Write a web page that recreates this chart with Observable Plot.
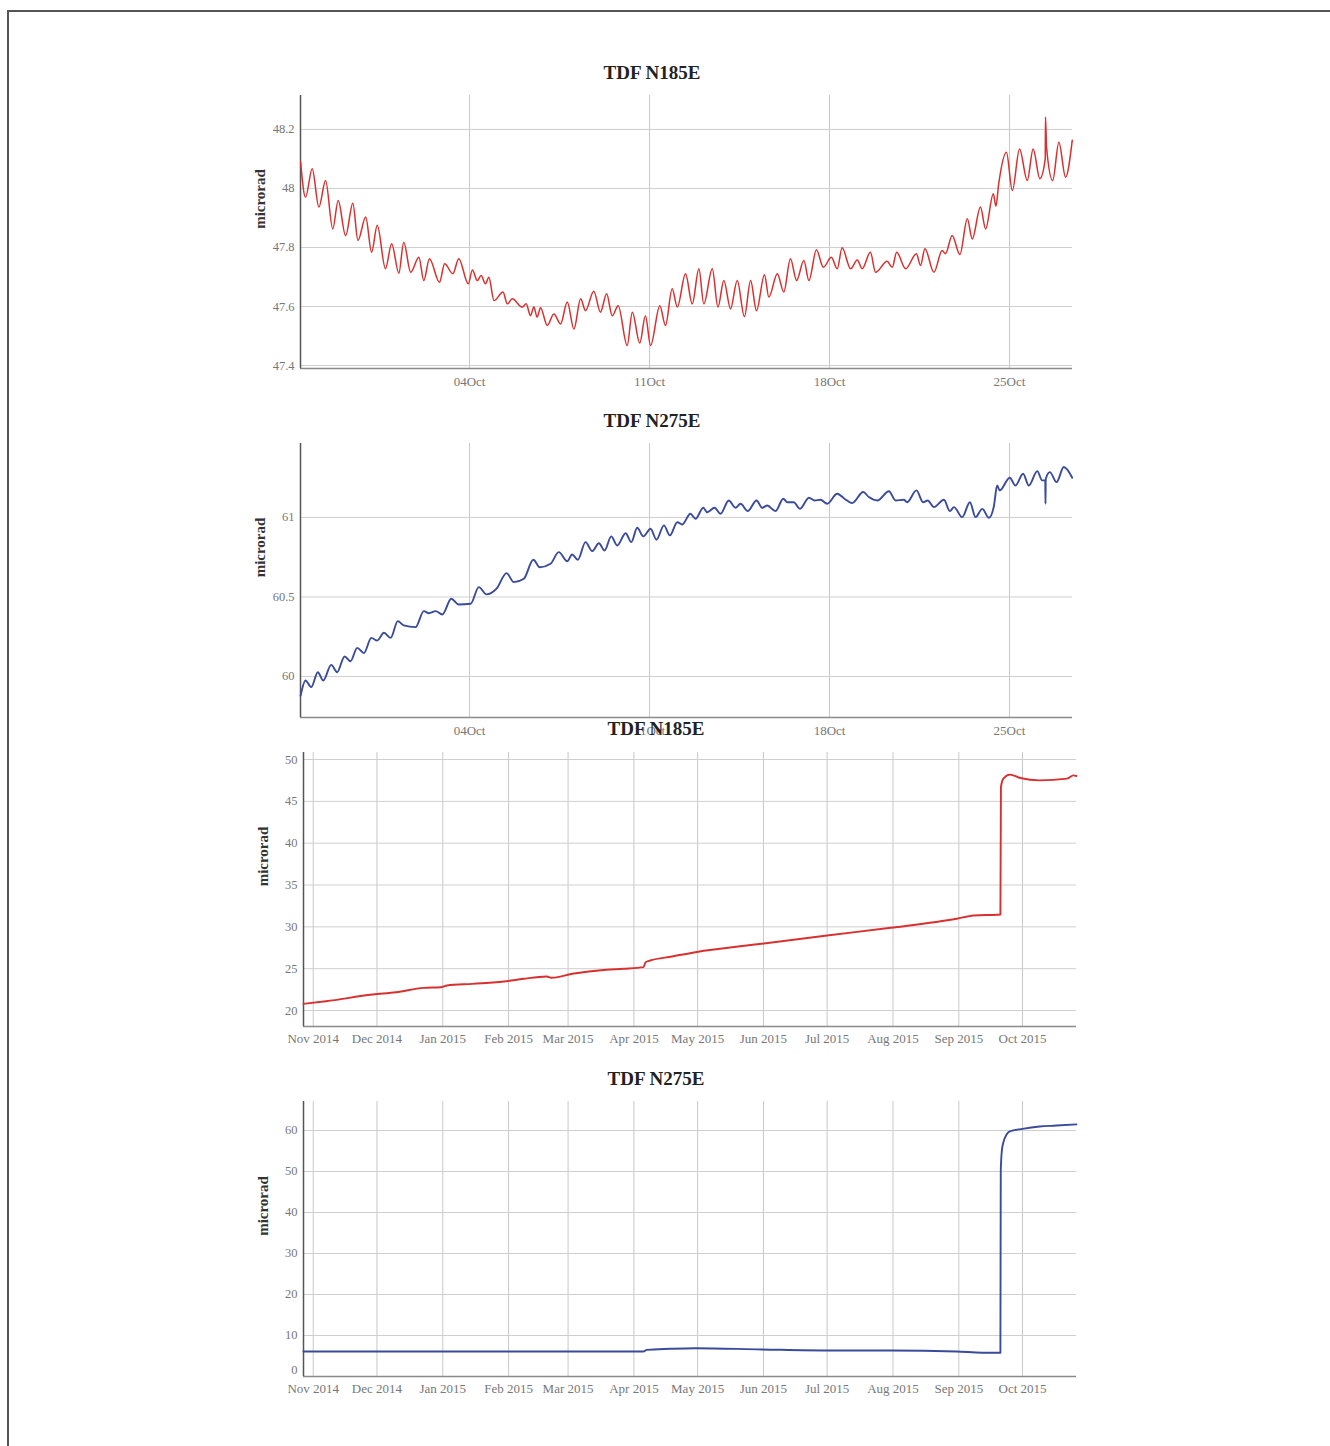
<!DOCTYPE html>
<html>
<head>
<meta charset="utf-8">
<script src="https://cdn.jsdelivr.net/npm/d3@7"></script>
<script src="https://cdn.jsdelivr.net/npm/@observablehq/plot@0.6"></script>
<style>
  html, body { margin: 0; padding: 0; background: #fff; }
  #page { position: relative; width: 1330px; height: 1446px; overflow: hidden; background: #fff; }
  #frame { position: absolute; left: 7px; top: 10px; right: -4px; bottom: -4px; border-left: 2px solid #555; border-top: 2px solid #555; }
  .title { position: absolute; width: 300px; margin-left: -150px; text-align: center;
           font-family: "Liberation Serif", "Times New Roman", serif; font-weight: bold; font-size: 19px; color: #222; line-height: 20px; }
  .panel { position: absolute; left: 240px; }
  .panel svg { overflow: visible; }
</style>
</head>
<body>
<div id="page">
  <div id="frame"></div>
</div>
<script>
// ---------- DATA ----------
// Panels 1 & 2: time in days since 2015-10-01 00:00 UTC, values in microrad
const monthTitles = ["TDF N185E", "TDF N275E"];
const yearTitles = ["TDF N185E", "TDF N275E"];
const yLabel = "microrad";

const n185Days = [-3.57,-3.38,-3.12,-2.86,-2.60,-2.32,-2.11,-1.82,-1.54,-1.34,-1.04,-0.81,-0.59,-0.27,-0.03,0.25,0.44,0.71,1.03,1.22,1.44,1.83,2.03,2.35,2.58,2.95,3.11,3.30,3.45,3.62,3.75,3.95,4.30,4.47,4.66,5.05,5.20,5.37,5.50,5.63,5.76,6.02,6.28,6.54,6.80,7.06,7.32,7.51,7.83,8.09,8.33,8.55,8.78,9.13,9.33,9.62,9.84,10.04,10.40,10.62,10.88,11.08,11.40,11.66,11.92,12.11,12.44,12.66,12.89,13.15,13.41,13.69,13.93,14.16,14.47,14.64,14.97,15.22,15.48,15.72,16.00,16.20,16.49,16.76,17.07,17.30,17.49,17.82,18.08,18.27,18.59,18.79,19.24,19.44,19.61,19.96,20.38,20.54,20.71,21.06,21.38,21.51,21.77,22.07,22.36,22.55,22.87,23.07,23.37,23.47,23.58,23.88,24.11,24.39,24.69,24.92,25.18,25.39,25.40,25.44,25.68,25.92,26.18,26.44];
const n185Vals = [48.089,47.970,48.067,47.937,48.027,47.863,47.959,47.840,47.950,47.824,47.903,47.784,47.875,47.728,47.813,47.713,47.818,47.716,47.767,47.688,47.762,47.682,47.745,47.711,47.762,47.677,47.724,47.688,47.705,47.677,47.699,47.620,47.649,47.609,47.626,47.598,47.609,47.569,47.598,47.564,47.596,47.536,47.575,47.541,47.615,47.524,47.626,47.586,47.652,47.581,47.643,47.569,47.603,47.468,47.581,47.476,47.569,47.468,47.603,47.536,47.660,47.598,47.711,47.609,47.728,47.609,47.728,47.598,47.688,47.592,47.688,47.566,47.688,47.586,47.708,47.632,47.711,47.649,47.762,47.688,47.756,47.688,47.792,47.733,47.767,47.728,47.799,47.728,47.758,47.728,47.784,47.716,47.753,47.733,47.784,47.728,47.779,47.739,47.796,47.716,47.790,47.779,47.841,47.776,47.897,47.829,47.937,47.863,47.982,47.940,48.016,48.123,47.993,48.134,48.027,48.134,48.033,48.100,48.242,48.140,48.027,48.157,48.038,48.163];

const n275Days = [-3.57,-3.38,-3.16,-2.90,-2.69,-2.38,-2.15,-1.86,-1.63,-1.37,-1.11,-0.82,-0.59,-0.33,-0.07,0.21,0.44,0.90,1.22,1.42,1.68,1.94,2.29,2.58,3.04,3.36,3.66,4.05,4.44,4.72,5.11,5.48,5.73,6.15,6.47,6.80,6.99,7.21,7.51,7.77,8.03,8.25,8.51,8.74,9.07,9.29,9.52,9.76,10.04,10.27,10.56,10.79,11.08,11.27,11.59,11.79,12.09,12.24,12.53,12.76,13.08,13.34,13.54,13.82,14.16,14.38,14.58,14.90,15.20,15.35,15.61,15.85,16.20,16.42,16.65,16.91,17.30,17.58,17.88,18.31,18.53,18.86,19.31,19.57,19.89,20.02,20.38,20.64,20.82,21.06,21.45,21.68,21.84,22.16,22.46,22.68,22.94,23.20,23.39,23.52,23.62,24.01,24.23,24.53,24.75,25.08,25.27,25.39,25.40,25.41,25.57,25.83,26.11,26.44];
const n275Vals = [59.880,59.975,59.933,60.027,59.975,60.073,60.027,60.126,60.096,60.180,60.147,60.243,60.226,60.275,60.243,60.348,60.321,60.310,60.411,60.398,60.411,60.390,60.489,60.453,60.457,60.562,60.516,60.552,60.650,60.593,60.614,60.734,60.687,60.709,60.782,60.725,60.767,60.734,60.845,60.788,60.838,60.792,60.881,60.824,60.901,60.845,60.935,60.881,60.929,60.860,60.950,60.887,60.970,60.956,61.023,60.992,61.061,61.033,61.061,61.023,61.107,61.061,61.086,61.040,61.107,61.061,61.075,61.040,61.118,61.096,61.096,61.054,61.124,61.107,61.111,61.086,61.149,61.118,61.090,61.160,61.128,61.107,61.165,61.107,61.111,61.096,61.170,61.096,61.107,61.065,61.111,61.040,61.065,61.002,61.096,61.002,61.054,60.998,61.069,61.201,61.170,61.250,61.201,61.275,61.201,61.291,61.233,61.233,61.086,61.243,61.285,61.222,61.317,61.250];

// Panels 3 & 4: one year of data
const yearN185Dates = ["2014-10-27T10:00","2014-11-07","2014-11-29","2014-12-10","2014-12-23","2014-12-31","2015-01-03","2015-01-15","2015-01-31","2015-02-08","2015-02-19","2015-02-21","2015-03-03","2015-03-19","2015-03-27","2015-04-05T12:00","2015-04-06T12:00","2015-04-08T16:00","2015-04-19","2015-04-30","2015-05-31","2015-07-01","2015-07-31","2015-08-31","2015-09-08","2015-09-20T14:00","2015-09-20T20:00","2015-09-22","2015-09-25","2015-09-30","2015-10-09","2015-10-22","2015-10-25","2015-10-26T09:00"];
const yearN185Vals = [20.80,21.11,21.91,22.19,22.71,22.79,22.99,23.19,23.50,23.79,24.07,23.91,24.39,24.87,24.99,25.18,25.78,25.98,26.46,26.97,27.98,28.97,29.89,30.97,31.36,31.48,46.71,47.72,48.19,47.79,47.51,47.72,48.11,48.03];

const yearN275Dates = ["2014-10-27T10:00","2015-04-05T12:00","2015-04-07","2015-04-18","2015-04-30","2015-05-31","2015-07-01","2015-07-31","2015-08-31","2015-09-12","2015-09-20T14:00","2015-09-20T18:00","2015-09-21T06:00","2015-09-22","2015-09-23T12:00","2015-09-25","2015-10-01","2015-10-09","2015-10-17","2015-10-26T09:00"];
const yearN275Vals = [6.10,6.10,6.50,6.75,6.90,6.60,6.35,6.35,6.10,5.80,5.80,50.0,55.0,57.15,59.0,59.76,60.40,60.98,61.20,61.50];

// Axis ticks
const monthTickDates = ["2015-10-04","2015-10-11","2015-10-18","2015-10-25"];
const yearTickDates = ["2014-11-01","2014-12-01","2015-01-01","2015-02-01","2015-03-01","2015-04-01","2015-05-01","2015-06-01","2015-07-01","2015-08-01","2015-09-01","2015-10-01"];
const n185MonthYTicks = [47.4, 47.6, 47.8, 48, 48.2];
const n275MonthYTicks = [60, 60.5, 61];
const n185YearYTicks = [20, 25, 30, 35, 40, 45, 50];
const n275YearYTicks = [0, 10, 20, 30, 40, 50, 60];

// ---------- BUILD ----------
const utc = s => new Date(s.length <= 10 ? s + "T00:00:00Z" : s + ":00Z");
const base = Date.UTC(2015, 9, 1);
const fromDays = d => new Date(base + d * 864e5);

const monthDomain = [fromDays(-3.575), fromDays(26.45)];
const yearDomain = [utc("2014-10-27T10:00"), utc("2015-10-26T10:00")];

const RED = "#d8302f", BLUE = "#3a4b9b";
const FONT = "'Liberation Serif', 'Times New Roman', serif";
const yFmt = d3.format("~g");

function panel({data, color, yDomain, yTicks, xDomain, xTicks, xFormat, top, marginLeft, marginRight, plotH, tickPad, shiftZero, strokeWidth, curve}) {
  const marginTop = 10, marginBottom = 28;
  const mainTicks = shiftZero ? yTicks.filter(v => v !== yDomain[0]) : yTicks;
  const marks = [
    Plot.gridX({ticks: xTicks, stroke: "#c8c8c8", strokeOpacity: 1}),
    Plot.gridY({ticks: yTicks, stroke: "#cfcfcf", strokeOpacity: 1}),
    Plot.ruleY([yDomain[0]], {stroke: "#8a8a8a", strokeWidth: 1.5}),
    Plot.ruleX([xDomain[0]], {stroke: "#555", strokeWidth: 1.5}),
    Plot.axisX({ticks: xTicks, tickFormat: xFormat, tickSize: 0, tickPadding: tickPad, label: null, fill: "#777", fontSize: 13}),
    Plot.axisY({ticks: mainTicks, tickFormat: yFmt, tickSize: 0, tickPadding: 6, label: null, fill: "#777", fontSize: 12.5}),
    Plot.line(data, {x: "t", y: "v", stroke: color, strokeWidth: strokeWidth, curve: curve}),
    Plot.text([yLabel], {frameAnchor: "left", dx: -40, dy: -33, rotate: -90, textAnchor: "middle", lineAnchor: "middle",
      fontWeight: "bold", fontSize: 15, fill: "#333", fontFamily: FONT})
  ];
  if (shiftZero) {
    marks.push(Plot.axisY({ticks: [yDomain[0]], tickFormat: yFmt, tickSize: 0, tickPadding: 6, dy: -7, label: null, fill: "#777", fontSize: 12.5}));
  }
  const svg = Plot.plot({
    width: 860,
    height: marginTop + plotH + marginBottom,
    marginTop, marginBottom, marginLeft, marginRight,
    style: {fontFamily: FONT, fontSize: "13px", background: "transparent", overflow: "visible"},
    x: {type: "utc", domain: xDomain},
    y: {domain: yDomain},
    marks
  });
  const wrap = document.createElement("div");
  wrap.className = "panel";
  wrap.style.top = top + "px";
  wrap.appendChild(svg);
  document.getElementById("page").appendChild(wrap);
}

function title(text, cx, cy) {
  const d = document.createElement("div");
  d.className = "title";
  d.textContent = text;
  d.style.left = cx + "px";
  d.style.top = (cy - 10) + "px";
  document.getElementById("page").appendChild(d);
}

const mData1 = n185Days.map((d, i) => ({t: fromDays(d), v: n185Vals[i]}));
const mData2 = n275Days.map((d, i) => ({t: fromDays(d), v: n275Vals[i]}));
const yData1 = yearN185Dates.map((d, i) => ({t: utc(d), v: yearN185Vals[i]}));
const yData2 = yearN275Dates.map((d, i) => ({t: utc(d), v: yearN275Vals[i]}));

const mTicks = monthTickDates.map(utc);
const yTicksX = yearTickDates.map(utc);
const fmtDay = d3.utcFormat("%d%b");
const fmtMonth = d3.utcFormat("%b %Y");

panel({data: mData1, color: RED, yDomain: [47.39, 48.315], yTicks: n185MonthYTicks, xDomain: monthDomain, xTicks: mTicks,
  xFormat: fmtDay, top: 85, marginLeft: 60, marginRight: 28, plotH: 273, tickPad: 8, strokeWidth: 1.5, curve: "monotone-x"});
panel({data: mData2, color: BLUE, yDomain: [59.742, 61.465], yTicks: n275MonthYTicks, xDomain: monthDomain, xTicks: mTicks,
  xFormat: fmtDay, top: 433, marginLeft: 60, marginRight: 28, plotH: 274, tickPad: 8, strokeWidth: 1.9, curve: "monotone-x"});
panel({data: yData1, color: RED, yDomain: [18.09, 50.84], yTicks: n185YearYTicks, xDomain: yearDomain, xTicks: yTicksX,
  xFormat: fmtMonth, top: 742, marginLeft: 63, marginRight: 24, plotH: 274, tickPad: 7, strokeWidth: 1.9, curve: "monotone-x"});
panel({data: yData2, color: BLUE, yDomain: [0, 67.07], yTicks: n275YearYTicks, xDomain: yearDomain, xTicks: yTicksX,
  xFormat: fmtMonth, top: 1091, marginLeft: 63, marginRight: 24, plotH: 275, tickPad: 7, shiftZero: true, strokeWidth: 1.9, curve: "monotone-x"});

title(monthTitles[0], 652, 73);
title(monthTitles[1], 652, 421);
title(yearTitles[0], 656, 729);
title(yearTitles[1], 656, 1079);
</script>
</body>
</html>
